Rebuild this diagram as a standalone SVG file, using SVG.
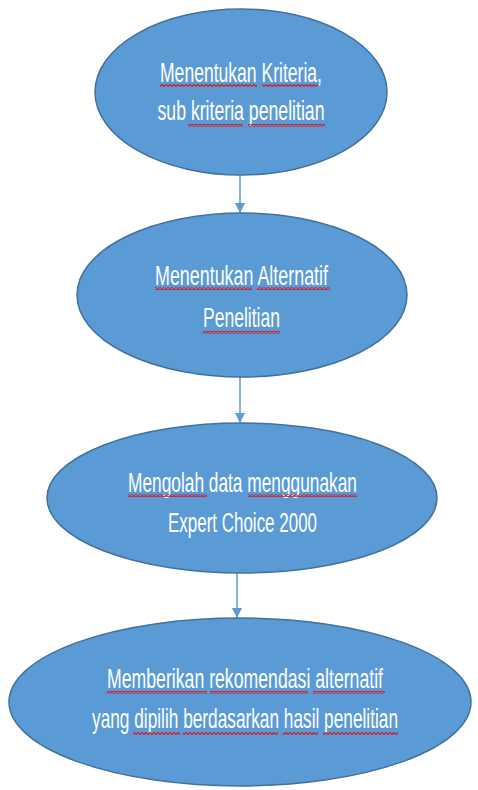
<svg xmlns="http://www.w3.org/2000/svg" width="478" height="790" viewBox="0 0 478 790">
<defs>
<style>
.node ellipse{fill:#5B9BD5;stroke:#41719C;stroke-width:1.5}
.node text{fill:#FFFFFF;font-family:"Liberation Sans Narrow","Liberation Sans","DejaVu Sans Condensed",sans-serif;font-size:27px;text-anchor:middle}
.conn line{stroke:#5B9BD5;stroke-width:1.5}
.wave{fill:url(#wv)}
</style>
<marker id="ah" viewBox="0 0 10 12" refX="10" refY="5" markerWidth="10" markerHeight="12" markerUnits="userSpaceOnUse" orient="auto">
<path d="M0,0 L10,5 L0,10 Z" fill="#5B9BD5"/>
</marker>
<pattern id="wv" width="4" height="3" patternUnits="userSpaceOnUse">
<path d="M0,2.5 L2,0.5 L4,2.5" fill="none" stroke="#D61F2A" stroke-width="1.3"/>
</pattern>
</defs>
<rect width="478" height="790" fill="#FFFFFF"/>
<g id="connectors" class="conn">
<line x1="240" y1="175" x2="240" y2="213" marker-end="url(#ah)"/>
<line x1="240" y1="377" x2="240" y2="423" marker-end="url(#ah)"/>
<line x1="237" y1="573" x2="237" y2="618" marker-end="url(#ah)"/>
</g>
<g id="node1" class="node">
<ellipse cx="241" cy="92" rx="146" ry="83"/>
<text x="241" y="82" textLength="162" lengthAdjust="spacingAndGlyphs">Menentukan Kriteria,</text>
<text x="241" y="120" textLength="167" lengthAdjust="spacingAndGlyphs">sub kriteria penelitian</text>
<rect class="wave" x="160" y="84" width="97" height="3"/>
<rect class="wave" x="262" y="84" width="56" height="3"/>
<rect class="wave" x="188" y="124" width="55" height="3"/>
<rect class="wave" x="248" y="124" width="77" height="3"/>
</g>
<g id="node2" class="node">
<ellipse cx="242" cy="295" rx="165" ry="82"/>
<text x="241.5" y="285" textLength="173" lengthAdjust="spacingAndGlyphs">Menentukan Alternatif</text>
<text x="241.5" y="327" textLength="77" lengthAdjust="spacingAndGlyphs">Penelitian</text>
<rect class="wave" x="155" y="287" width="97" height="3"/>
<rect class="wave" x="257" y="287" width="73" height="3"/>
<rect class="wave" x="203" y="331" width="77" height="3"/>
</g>
<g id="node3" class="node">
<ellipse cx="242" cy="498" rx="195" ry="75"/>
<text x="242.5" y="492" textLength="229" lengthAdjust="spacingAndGlyphs">Mengolah data menggunakan</text>
<text x="242.5" y="532" textLength="149" lengthAdjust="spacingAndGlyphs">Expert Choice 2000</text>
<rect class="wave" x="128" y="494" width="79" height="3"/>
<rect class="wave" x="248" y="494" width="109" height="3"/>
</g>
<g id="node4" class="node">
<ellipse cx="240" cy="702" rx="231" ry="84"/>
<text x="245" y="688" textLength="276" lengthAdjust="spacingAndGlyphs">Memberikan rekomendasi alternatif</text>
<text x="245" y="728" textLength="306" lengthAdjust="spacingAndGlyphs">yang dipilih berdasarkan hasil penelitian</text>
<rect class="wave" x="107" y="691" width="100" height="3"/>
<rect class="wave" x="210" y="691" width="98" height="3"/>
<rect class="wave" x="313" y="691" width="72" height="3"/>
<rect class="wave" x="133" y="732" width="47" height="3"/>
<rect class="wave" x="183" y="732" width="95" height="3"/>
<rect class="wave" x="283" y="732" width="35" height="3"/>
<rect class="wave" x="323" y="732" width="75" height="3"/>
</g>
</svg>
